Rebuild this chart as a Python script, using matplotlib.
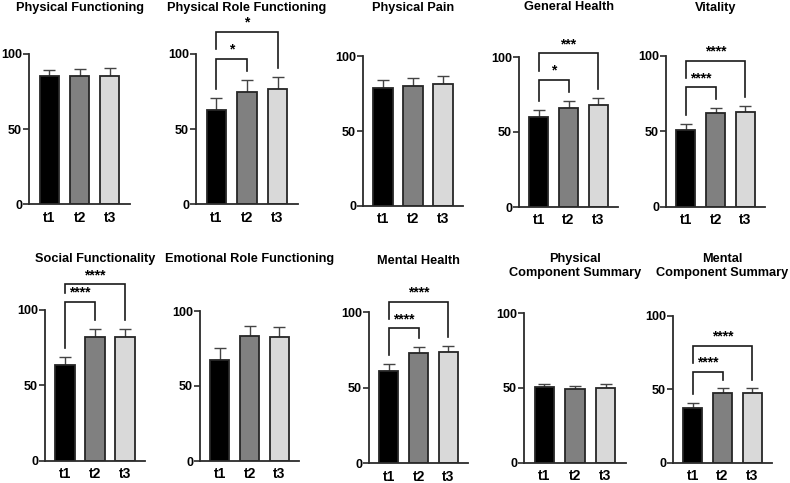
import matplotlib
matplotlib.use("Agg")
import matplotlib.pyplot as plt

plt.rcParams['font.family'] = ['Liberation Sans', 'DejaVu Sans']
plt.rcParams['font.weight'] = 'bold'

# ---------------- data ----------------
timepoints = ["t1", "t2", "t3"]
bar_colors = ["#000000", "#808080", "#d9d9d9"]

titles = ["Physical Functioning", "Physical Role Functioning", "Physical Pain",
          "General Health", "Vitality", "Social Functionality",
          "Emotional Role Functioning", "Mental Health",
          "Physical\nComponent Summary", "Mental\nComponent Summary"]

pf_mean = [85.2, 85.6, 85.6];  pf_err = [4.2, 4.4, 5.1]
prf_mean = [62.7, 74.5, 76.9]; prf_err = [7.8, 8.0, 8.0]
pp_mean = [78.7, 80.2, 81.3];  pp_err = [5.3, 5.3, 5.7]
gh_mean = [60.2, 66.2, 68.2];  gh_err = [4.8, 4.5, 4.7]
vit_mean = [50.9, 62.0, 63.0]; vit_err = [4.0, 3.7, 4.0]
sf_mean = [63.5, 82.3, 82.3];  sf_err = [5.5, 5.1, 5.1]
erf_mean = [67.3, 83.3, 82.7]; erf_err = [8.2, 6.7, 6.8]
mh_mean = [61.1, 73.3, 73.7];  mh_err = [4.5, 3.5, 4.0]
pcs_mean = [50.5, 49.2, 50.0]; pcs_err = [2.0, 2.4, 2.5]
mcs_mean = [37.5, 47.7, 47.7]; mcs_err = [3.0, 3.0, 3.0]

means = [pf_mean, prf_mean, pp_mean, gh_mean, vit_mean,
         sf_mean, erf_mean, mh_mean, pcs_mean, mcs_mean]
errs = [pf_err, prf_err, pp_err, gh_err, vit_err,
        sf_err, erf_err, mh_err, pcs_err, mcs_err]

# significance labels: (t1 vs t2, t1 vs t3) and bracket heights (value units)
sig_labels = [None, ("*", "*"), None, ("*", "***"), ("****", "****"),
              ("****", "****"), None, ("****", "****"), None, ("****", "****")]
sig_heights = [None, (97, 114.5), None, (84.7, 102.4), (79.2, 96.7),
               (105.5, 117), None, (89.4, 107), None, (62, 79.8)]

# ---------------- layout (pixels) ----------------
W, H = 790, 483
# (y-axis x, y of 0, y of 100, x end of axis)
layout = [(29, 204.3, 54, 130), (196, 204.3, 54, 298), (363, 206, 56, 463),
          (519, 207, 57, 618), (666, 206.7, 56, 765),
          (45, 460.7, 310, 145), (200, 461, 311, 299), (369, 463.3, 312.3, 468),
          (524, 462.7, 313.3, 626), (673, 462.7, 316, 772)]
title_y = [7.5, 7.5, 7.5, 7.5, 7.5, 259, 259, 260.5, 266, 266]

fig = plt.figure(figsize=(W / 100, H / 100), dpi=100)
axis_color = "#2b2b2b"

for k in range(10):
    xa, y0, y100, xe = layout[k]
    ax = fig.add_axes([xa / W, 1 - y0 / H, (xe - xa) / W, (y0 - y100) / H])
    x = list(range(3))
    m = means[k]
    e = errs[k]
    ax.bar(x, m, width=0.64, color=bar_colors, edgecolor="#262626",
           linewidth=1.3, zorder=2)
    ax.errorbar(x, m, yerr=[[0, 0, 0], e], fmt='none', ecolor="#444444",
                elinewidth=1.0, capsize=4, capthick=1.0, zorder=1)
    ax.set_xlim(-0.67, 2.67)
    ax.set_ylim(0, 100)
    ax.set_yticks([0, 50, 100])
    ax.set_xticks(x)
    ax.set_xticklabels(timepoints, fontsize=10, fontweight='bold')
    for lab in ax.get_yticklabels():
        lab.set_fontsize(9)
        lab.set_fontweight('bold')
    ax.tick_params(axis='y', length=4, width=1.2, color=axis_color, pad=1)
    ax.tick_params(axis='x', length=0, pad=4.5)
    for s in ['top', 'right']:
        ax.spines[s].set_visible(False)
    for s in ['left', 'bottom']:
        ax.spines[s].set_linewidth(1.3)
        ax.spines[s].set_color(axis_color)
    ax.patch.set_alpha(0)

    if sig_labels[k] is not None:
        tops = [m[i] + e[i] for i in range(3)]
        h1, h2 = sig_heights[k]
        gap = 6
        # t1 vs t2
        ax.plot([0, 0, 1, 1], [tops[0] + gap, h1, h1, tops[1] + gap],
                color="#1a1a1a", lw=1.2, clip_on=False, solid_joinstyle='miter')
        ax.text(0.5, h1 + 1.5, sig_labels[k][0], ha='center', va='bottom',
                fontsize=10, fontweight='bold', clip_on=False)
        # t1 vs t3
        ax.plot([0, 0, 2, 2], [h1 + gap, h2, h2, tops[2] + gap],
                color="#1a1a1a", lw=1.2, clip_on=False, solid_joinstyle='miter')
        ax.text(1.0, h2 + 1.5, sig_labels[k][1], ha='center', va='bottom',
                fontsize=10, fontweight='bold', clip_on=False)

    cx = (xa + xe) / 2
    fig.text(cx / W, 1 - title_y[k] / H, titles[k], ha='center', va='center',
             fontsize=9.2, fontweight='bold', linespacing=1.15)

fig.savefig("out.png", dpi=100)
